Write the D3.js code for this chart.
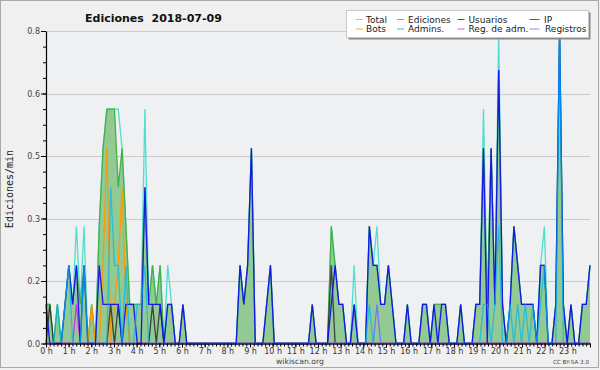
<!DOCTYPE html>
<html><head><meta charset="utf-8">
<script src="https://cdn.jsdelivr.net/npm/d3@7/dist/d3.min.js"></script>
<style>body{margin:0;background:#f0f0f0}svg{display:block}</style>
</head><body>
<svg id="c" width="600" height="370"></svg>
<script>
// ---- data (10-minute bins, edits per minute) ----
const hourLabels = d3.range(24).map(h => h + " h");
const yTicks = [0, 0.16, 0.32, 0.48, 0.64, 0.8];
const seriesNames = ["Total","Ediciones","Usuarios","IP","Bots","Admins.","Reg. de adm.","Registros"];

const total = [
 .1,.1,0,.1,0,.1,  .2,.1,.3,.1,.3,0,  .1,0,.3,.5,.6,.6,  .6,.6,.5,.3,.1,.1,
 .1,.1,.6,.1,.2,.1,  .2,0,.2,.1,0,0,  .1,0,0,0,0,0,  0,0,0,0,0,0,
 0,0,0,.2,.1,.2,  .5,0,0,0,.1,.2,  0,0,0,0,0,0,  0,0,0,0,.1,0,
 0,0,0,.3,.2,.1,  .1,0,0,.2,0,0,  0,.3,.2,.3,.1,.1,  .2,.1,0,0,0,.1,
 0,0,0,.1,.1,0,  .1,.1,.1,.1,0,0,  0,.1,0,0,0,.1,  .1,.6,.1,.5,.1,.8,
 .1,0,.1,.3,.2,.1,  .1,.1,.1,0,.2,.3,  0,0,.1,.8,.1,0,  .1,0,0,.1,.1,.2];
const ediciones = [
 .1,.1,0,.1,0,.1,  .2,.1,.2,.1,.2,0,  .1,0,.3,.5,.6,.6,  .6,.4,.5,.3,.1,.1,
 .1,.1,.4,.1,.2,.1,  .2,0,.1,.1,0,0,  .1,0,0,0,0,0,  0,0,0,0,0,0,
 0,0,0,.2,.1,.2,  .5,0,0,0,.1,.2,  0,0,0,0,0,0,  0,0,0,0,.1,0,
 0,0,0,.3,.2,.1,  .1,0,0,.1,0,0,  0,.3,.2,.2,.1,.1,  .2,.1,0,0,0,.1,
 0,0,0,.1,.1,0,  .1,.1,.1,.1,0,0,  0,.1,0,0,0,.1,  .1,.5,.1,.5,.1,.7,
 .1,0,.1,.3,.2,.1,  .1,.1,.1,0,.2,.2,  0,0,.1,.8,.1,0,  .1,0,0,.1,.1,.2];
const usuarios = [
 .1,0,0,0,0,.1,  .2,.1,.2,0,.2,0,  0,0,.2,.1,.1,.1,  .1,.1,0,.1,.1,.1,
 0,0,.4,.1,.1,.1,  .1,0,.1,.1,0,0,  .1,0,0,0,0,0,  0,0,0,0,0,0,
 0,0,0,.2,.1,.2,  .5,0,0,0,.1,.2,  0,0,0,0,0,0,  0,0,0,0,.1,0,
 0,0,0,.1,.2,.1,  .1,0,0,.1,0,0,  0,.3,.2,.2,.1,.1,  .2,.1,0,0,0,.1,
 0,0,0,.1,.1,0,  .1,0,.1,.1,0,0,  0,.1,0,0,0,.1,  .1,.5,0,.5,.1,.7,
 .1,0,.1,.3,.2,.1,  .1,.1,.1,0,.2,.2,  0,0,.1,.8,.1,0,  .1,0,0,.1,.1,.2];
const ip = [
 0,.1,0,0,0,0,  0,0,0,0,0,0,  0,0,0,0,0,.1,  0,.1,0,0,0,0,
 0,0,0,0,.1,0,  .1,0,0,0,0,0,  0,0,0,0,0,0,  0,0,0,0,0,0,
 0,0,0,0,0,0,  0,0,0,0,0,0,  0,0,0,0,0,0,  0,0,0,0,0,0,
 0,0,0,.2,0,0,  0,0,0,0,0,0,  0,0,0,0,0,0,  0,0,0,0,0,0,
 0,0,0,0,0,0,  0,0,0,0,0,0,  0,0,0,0,0,0,  0,0,0,0,0,0,
 0,0,0,0,0,0,  0,0,0,0,0,0,  0,0,0,0,0,0,  0,0,0,0,0,0];
const bots = [
 0,0,0,0,0,0,  0,0,0,0,0,0,  .1,0,0,.2,.5,0,  .1,.2,.4,.1,0,0,
 0,0,0,0,0,0,  0,0,0,0,0,0,  0,0,0,0,0,0,  0,0,0,0,0,0,
 0,0,0,0,0,0,  0,0,0,0,0,0,  0,0,0,0,0,0,  0,0,0,0,0,0,
 0,0,0,0,0,0,  0,0,0,0,0,0,  0,0,0,0,0,0,  0,0,0,0,0,0,
 0,0,0,0,0,0,  0,0,0,0,0,0,  0,0,0,0,0,0,  0,0,0,0,0,0,
 0,0,0,0,0,0,  0,0,0,0,0,0,  0,0,0,0,0,0,  0,0,0,0,0,0];
const admins = [
 0,0,0,.1,0,.1,  .2,0,0,0,.2,0,  0,0,0,0,0,.4,  .2,.2,0,.2,0,0,
 .1,.1,.2,0,0,0,  0,0,0,0,0,0,  0,0,0,0,0,0,  0,0,0,0,0,0,
 0,0,0,0,0,0,  0,0,0,0,0,0,  0,0,0,0,0,0,  0,0,0,0,0,0,
 0,0,0,0,0,0,  0,0,0,0,0,0,  0,.1,0,0,0,0,  0,0,0,0,0,0,
 0,0,0,0,0,0,  0,0,0,0,0,0,  0,0,0,0,0,0,  0,.1,.1,0,.1,.3,
 0,0,.1,0,.1,0,  .1,0,.1,0,.1,.2,  0,0,0,.8,0,0,  0,0,0,0,0,0];
const regAdm = [
 0,0,0,0,0,0,  0,0,.1,0,0,0,  0,0,0,0,0,0,  0,0,0,0,0,0,
 0,0,0,0,0,0,  0,0,0,0,0,0,  0,0,0,0,0,0,  0,0,0,0,0,0,
 0,0,0,0,0,0,  0,0,0,0,0,0,  0,0,0,0,0,0,  0,0,0,0,0,0,
 0,0,0,0,0,0,  0,0,0,0,0,0,  0,0,0,0,0,0,  0,0,0,0,0,0,
 0,0,0,0,0,0,  0,0,0,0,0,0,  0,0,0,0,0,0,  0,0,0,0,0,0,
 0,0,0,0,0,0,  0,0,0,0,0,0,  0,0,0,0,0,0,  0,0,0,0,0,0];
const registros = [
 0,0,0,0,0,0,  0,0,0,0,0,0,  0,0,0,0,0,0,  0,0,0,0,0,0,
 0,0,0,0,0,0,  0,0,0,0,0,0,  0,0,0,0,0,0,  0,0,0,0,0,0,
 0,0,0,0,0,0,  0,0,0,0,0,0,  0,0,0,0,0,0,  0,0,0,0,0,0,
 0,0,0,0,0,0,  0,0,0,.1,0,0,  0,0,0,.1,0,0,  0,0,0,0,0,0,
 0,0,0,0,0,0,  0,0,0,0,0,0,  0,0,0,0,0,0,  0,0,0,0,0,0,
 0,0,0,0,0,0,  0,0,0,0,0,0,  0,0,0,0,0,0,  0,0,0,0,0,0];

// ---- styles ----
const colors = {
  "Total":"#3fdccc", "Ediciones":"#45b045", "Usuarios":"#1010ee", "IP":"#333333",
  "Bots":"#ff9900", "Admins.":"#00b8f0", "Reg. de adm.":"#e81ce8", "Registros":"#6f6fff"
};
const values = {
  "Total":total, "Ediciones":ediciones, "Usuarios":usuarios, "IP":ip, "Bots":bots,
  "Admins.":admins, "Reg. de adm.":regAdm, "Registros":registros
};

const svg = d3.select("#c");
const L = 46, R = 590, T = 31, B = 343.5;

svg.append("rect").attr("width",600).attr("height",370).attr("fill","#f0f0f0");
svg.append("rect").attr("x",0.5).attr("y",0.5).attr("width",598).attr("height",367)
   .attr("fill","none").attr("stroke","#a8a8a8");

const x = d3.scaleLinear().domain([0, total.length - 1]).range([L, R]);
const xh = d3.scaleLinear().domain([0, 24]).range([L, R]);
const y = d3.scaleLinear().domain([0, 0.8]).range([B, T]);

svg.append("rect").attr("x",L).attr("y",T).attr("width",R-L).attr("height",B-T).attr("fill","#eef0f2");

// grid
svg.append("g").selectAll("line").data(yTicks.slice(1)).join("line")
  .attr("x1",L).attr("x2",R)
  .attr("y1",d=>Math.round(y(d))+0.5).attr("y2",d=>Math.round(y(d))+0.5)
  .attr("stroke","#cccccc").attr("stroke-width",1);

// area
const area = d3.area().x((d,i)=>x(i)).y0(y(0)).y1(d=>y(d));
svg.append("path").datum(ediciones).attr("d",area).attr("fill","#93c993");

const line = d3.line().x((d,i)=>x(i)).y(d=>y(d));
const drawOrder = ["Total","Ediciones","Bots","IP","Registros","Reg. de adm.","Usuarios","Admins."];
const opac = {"Total":0.9,"Ediciones":1,"Bots":0.95,"IP":0.9,"Registros":0.9,"Reg. de adm.":0.9,"Usuarios":0.95,"Admins.":0.7};
drawOrder.forEach(n=>{
  svg.append("path").datum(values[n]).attr("d",line).attr("fill","none")
    .attr("stroke",colors[n]).attr("stroke-width",1.3).attr("stroke-opacity",opac[n])
    .attr("stroke-linejoin","miter");
});

// axes
const font = "DejaVu Sans, Verdana, sans-serif";
const yMinor = d3.range(0, 0.8001, 0.04);
const gyMinor = svg.append("g").attr("transform",`translate(${L},0)`)
  .call(d3.axisLeft(y).tickValues(yMinor).tickSize(3).tickSizeOuter(0).tickFormat(""));
gyMinor.select(".domain").remove();
const gy = svg.append("g").attr("transform",`translate(${L},0)`)
  .call(d3.axisLeft(y).tickValues(yTicks).tickSize(5).tickSizeOuter(0).tickPadding(1).tickFormat(d3.format(".1f")));
gy.selectAll("text").attr("font-family",font).attr("font-size",8).attr("fill","#444");

const xMinor = d3.range(0, 24*6+1).map(k=>k/6);
const gxMinor = svg.append("g").attr("transform",`translate(0,${B})`)
  .call(d3.axisBottom(xh).tickValues(xMinor).tickSize(3).tickSizeOuter(0).tickFormat(""));
gxMinor.select(".domain").remove();
const gx = svg.append("g").attr("transform",`translate(0,${B})`)
  .call(d3.axisBottom(xh).tickValues(d3.range(25)).tickSize(4).tickSizeOuter(0).tickPadding(1)
        .tickFormat(h => h < 24 ? hourLabels[h] : ""));
gx.selectAll("text").attr("font-family",font).attr("font-size",8).attr("fill","#333");
[gy,gx,gyMinor,gxMinor].forEach(g=>{
  g.selectAll(".domain").attr("stroke","#000").attr("stroke-width",1.2);
  g.selectAll(".tick line").attr("stroke","#000");
});

// title and labels
svg.append("text").attr("x",85).attr("y",21.5).attr("font-family",font).attr("font-weight","bold")
  .attr("font-size",11).attr("fill","#111").text("Ediciones  2018-07-09").attr("xml:space","preserve")
  .style("white-space","pre");
svg.append("text").attr("transform","translate(13,189) rotate(-90)").attr("text-anchor","middle")
  .attr("font-family","DejaVu Sans Mono, monospace").attr("font-size",10).attr("fill","#222").text("Ediciones/min");
svg.append("text").attr("x",300).attr("y",364).attr("text-anchor","middle").attr("font-family",font)
  .attr("font-size",7.7).attr("fill","#444").text("wikiscan.org");
svg.append("text").attr("x",589).attr("y",364).attr("text-anchor","end").attr("font-family",font)
  .attr("font-size",5.6).attr("fill","#444").text("CC BY-SA 3.0");

// legend
const lg = svg.append("g");
lg.append("rect").attr("x",348.5).attr("y",12.5).attr("width",242).attr("height",27).attr("fill","#888");
lg.append("rect").attr("x",346.5).attr("y",10.5).attr("width",242).attr("height",27).attr("fill","#fff").attr("stroke","#c8c8c8");
const legendOrder = [["Total","Ediciones","Usuarios","IP"],["Bots","Admins.","Reg. de adm.","Registros"]];
const colSw = [356, 397, 457.5, 529.5];
const colTx = [366, 408, 468.5, 544];
const rowY = [19.5, 29];
legendOrder.forEach((row,r)=>row.forEach((n,c)=>{
  const sw = c===3 ? 10 : 7;
  lg.append("line").attr("x1",colSw[c]).attr("x2",colSw[c]+sw).attr("y1",rowY[r]).attr("y2",rowY[r])
    .attr("stroke",colors[n]).attr("stroke-width",1).attr("stroke-opacity",0.8);
  lg.append("text").attr("x",colTx[c] + (r===1&&c===3?1:0)).attr("y",rowY[r]+3.2).attr("font-family",font)
    .attr("font-size",9).attr("fill","#222").text(n);
}));
</script>
</body></html>
